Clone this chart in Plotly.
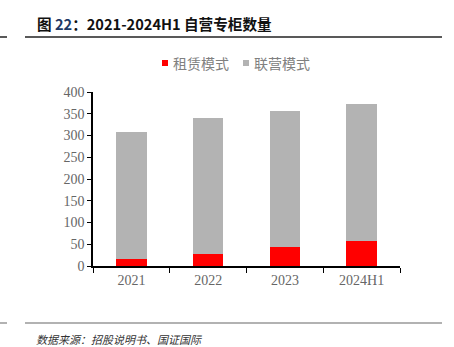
import plotly.graph_objects as go

categories = ["2021", "2022", "2023", "2024H1"]
lease = [16, 27, 44, 57]          # 租赁模式
joint = [291, 313, 313, 315]      # 联营模式
y_ticks = [0, 50, 100, 150, 200, 250, 300, 350, 400]

W, H = 454, 347
L, R, T, B = 93, 54, 92, 81
PW, PH = W - L - R, H - T - B

def px(x):
    return (x - L) / PW

def py(y):
    return (H - B - y) / PH

fig = go.Figure()
fig.add_trace(go.Bar(x=categories, y=lease, name="租赁模式", marker=dict(color="#FF0000", line=dict(width=0))))
fig.add_trace(go.Bar(x=categories, y=joint, name="联营模式", marker=dict(color="#B3B3B3", line=dict(width=0))))

tick_font = dict(family="Liberation Serif, Times New Roman, serif", size=14, color="#666666")
cjk = "Noto Sans CJK SC, sans-serif"

fig.update_layout(
    width=W, height=H,
    margin=dict(l=L, r=R, t=T, b=B, pad=0),
    barmode="stack", bargap=0.6,
    showlegend=False,
    plot_bgcolor="white", paper_bgcolor="white",
    xaxis=dict(type="category", showline=True, linecolor="#000000", linewidth=1.5,
               ticks="outside", tickson="boundaries", ticklen=5, tickcolor="#000000",
               tickfont=tick_font, showgrid=False),
    yaxis=dict(range=[0, 400], tickvals=y_ticks, showline=True, linecolor="#000000", linewidth=1.5,
               ticks="outside", ticklen=4, tickcolor="#000000", tickfont=tick_font,
               showgrid=False, zeroline=False),
)

shapes = [
    dict(type="line", xref="paper", yref="paper", x0=px(25), x1=px(442), y0=py(37), y1=py(37),
         line=dict(color="#222222", width=1.5)),
    dict(type="line", xref="paper", yref="paper", x0=px(0), x1=px(7), y0=py(37), y1=py(37),
         line=dict(color="#222222", width=1.5)),
    dict(type="line", xref="paper", yref="paper", x0=px(25), x1=px(442), y0=py(323), y1=py(323),
         line=dict(color="#999999", width=1.5)),
    dict(type="line", xref="paper", yref="paper", x0=px(0), x1=px(7), y0=py(323), y1=py(323),
         line=dict(color="#999999", width=1.5)),
    dict(type="rect", xref="paper", yref="paper", x0=px(162), x1=px(168), y0=py(66), y1=py(60),
         fillcolor="#FF0000", line=dict(width=0)),
    dict(type="rect", xref="paper", yref="paper", x0=px(243), x1=px(249), y0=py(66), y1=py(60),
         fillcolor="#B3B3B3", line=dict(width=0)),
]

annotations = [
    dict(xref="paper", yref="paper", x=px(35), y=py(23), xanchor="left", yanchor="middle",
         text="<b>图 <span style='color:#1F3864'>22</span>：2021-2024H1 自营专柜数量</b>",
         showarrow=False, font=dict(family=cjk, size=14.6, color="#111111")),
    dict(xref="paper", yref="paper", x=px(171), y=py(63), xanchor="left", yanchor="middle",
         text="租赁模式", showarrow=False, font=dict(family=cjk, size=14, color="#808080")),
    dict(xref="paper", yref="paper", x=px(252), y=py(63), xanchor="left", yanchor="middle",
         text="联营模式", showarrow=False, font=dict(family=cjk, size=14, color="#808080")),
    dict(xref="paper", yref="paper", x=px(35), y=py(339), xanchor="left", yanchor="middle",
         text="<i>数据来源：招股说明书、国证国际</i>", showarrow=False, borderpad=0,
         font=dict(family=cjk, size=11, color="#333333")),
]

fig.update_layout(shapes=shapes, annotations=annotations)
fig.write_html("out.html")
